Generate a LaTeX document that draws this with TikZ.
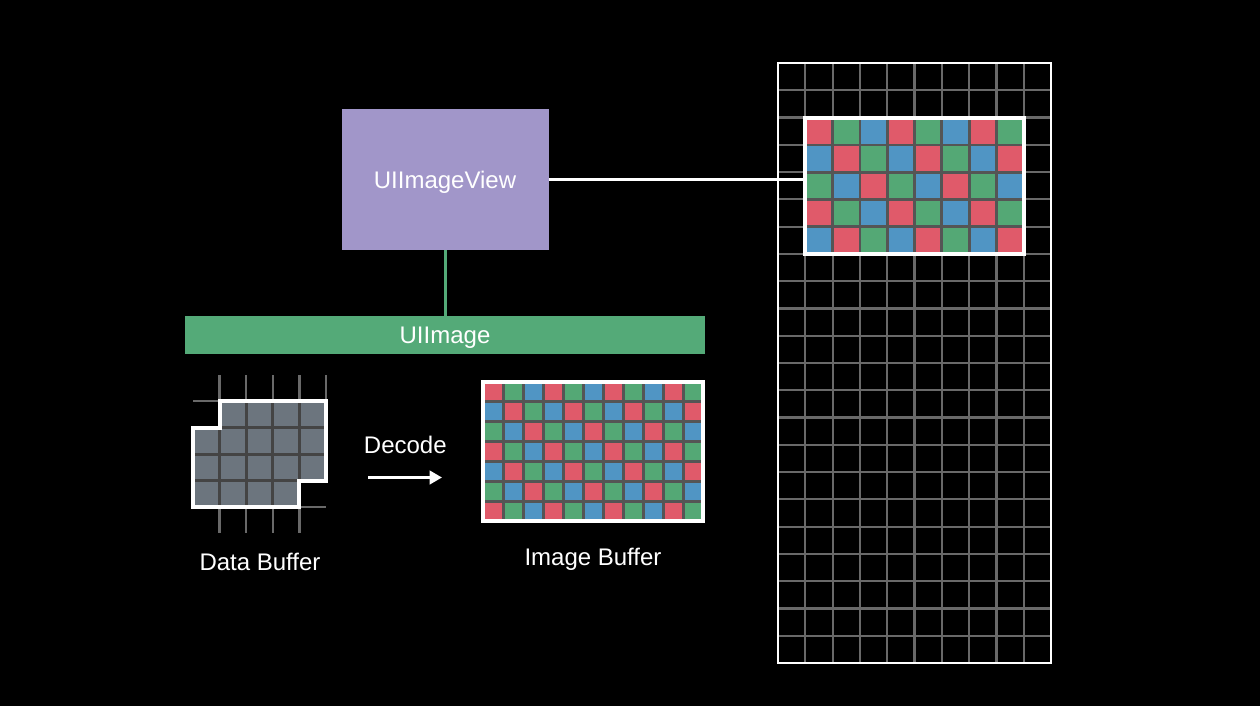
\documentclass[tikz,border=0pt]{standalone}
\usepackage{fontspec}
\setmainfont{Liberation Sans}
\usetikzlibrary{arrows.meta}
\definecolor{cred}{RGB}{224,90,106}
\definecolor{cgreen}{RGB}{84,168,117}
\definecolor{cblue}{RGB}{80,149,196}
\definecolor{cpurple}{RGB}{161,150,201}
\definecolor{cbar}{RGB}{84,170,120}
\definecolor{cgap}{RGB}{85,85,85}
\definecolor{cgrid}{RGB}{105,105,105}
\definecolor{ctile}{RGB}{108,117,126}
\definecolor{cdark}{RGB}{68,68,68}
\tikzset{
  lbl/.style={text=white,font=\fontsize{24}{28}\selectfont,inner sep=0pt,anchor=base},
  gridline/.style={draw=cgrid,line width=2.2pt},
  stub/.style={draw=cgrid,line width=2.4pt},
  whiteframe/.style={draw=white,line width=4pt},
}
\begin{document}
\begin{tikzpicture}[x=1pt,y=-1pt]
\fill[black] (0,0) rectangle (1260,706);
\useasboundingbox (0,0) rectangle (1260,706);

% ---------- right screen grid ----------
\foreach \i in {0,...,10} \draw[gridline] (778+\i*27.3,63) -- ++(0,600);
\foreach \j in {0,...,22} \draw[gridline] (778,63+\j*27.273) -- ++(273,0);
\node[draw=white,line width=2pt,minimum width=273pt,minimum height=600pt,inner sep=0pt] (screen) at (914.5,363) {};

% colored region in screen
\fill[cgap] (805.3,117.6) rectangle (1023.7,254.1);
\foreach \r in {0,...,4} \foreach \c in {0,...,7} {
  \pgfmathtruncatemacro\k{mod(\c-\r+30,3)}
  \ifcase\k \def\cc{cred}\or \def\cc{cgreen}\or \def\cc{cblue}\fi
  \fill[\cc] (805.3+\c*27.3+1.4,117.6+\r*27.3+1.4) rectangle ++(24.5,24.5);
}
\node[whiteframe,minimum width=218.4pt,minimum height=136.5pt,inner sep=0pt] (shown) at (914.5,185.85) {};

% ---------- UIImageView ----------
\node[fill=cpurple,minimum width=207pt,minimum height=141pt,inner sep=0pt,
      text=white,font=\fontsize{24}{28}\selectfont,text height=17pt,text depth=0pt] (uiv) at (445,179.7) {UIImageView};

% ---------- UIImage bar ----------
\node[fill=cbar,minimum width=520pt,minimum height=38.6pt,inner sep=0pt,
      text=white,font=\fontsize{24}{28}\selectfont,text height=17pt,text depth=0pt] (uiimg) at (445,335) {UIImage};

\draw[cbar,line width=3pt] (uiv.south) -- (uiimg.north);
\draw[white,line width=3pt] (uiv.east) -- (uiv.east -| shown.west);

% ---------- Data buffer ----------
\def\xa{193}\def\xb{219.6}\def\xc{246.2}\def\xd{272.8}\def\xe{299.4}\def\xf{326}
\def\ya{401}\def\yb{427.5}\def\yc{454}\def\yd{480.5}\def\ye{507}
% stubs
\foreach \x in {\xb,\xc,\xd,\xe,\xf} \draw[stub] (\x,375) -- (\x,\ya);
\foreach \x in {\xb,\xc,\xd,\xe} \draw[stub] (\x,\ye) -- (\x,533);
\draw[stub] (\xa,\ya) -- (\xb,\ya);
\draw[stub] (\xe,\ye) -- (\xf,\ye);
% tiles
\fill[cdark] (\xb,\ya) -- (\xf,\ya) -- (\xf,\yd) -- (\xe,\yd) -- (\xe,\ye) -- (\xa,\ye) -- (\xa,\yb) -- (\xb,\yb) -- cycle;
\foreach \c/\r in {1/0,2/0,3/0,4/0, 0/1,1/1,2/1,3/1,4/1, 0/2,1/2,2/2,3/2,4/2, 0/3,1/3,2/3,3/3}
  \fill[ctile] (193+\c*26.6+1.5,401+\r*26.5+1.5) rectangle ++(23.6,23.5);
\draw[white,line width=4pt,line join=miter] (\xb,\ya) -- (\xf,\ya) -- (\xf,\yd) -- (\xe,\yd) -- (\xe,\ye) -- (\xa,\ye) -- (\xa,\yb) -- (\xb,\yb) -- cycle;
\coordinate (dbuf) at (259.5,454);

% ---------- Image buffer ----------
\fill[cgap] (483,381.5) rectangle (703,521);
\foreach \r in {0,...,6} \foreach \c in {0,...,10} {
  \pgfmathtruncatemacro\k{mod(\c-\r+30,3)}
  \ifcase\k \def\cc{cred}\or \def\cc{cgreen}\or \def\cc{cblue}\fi
  \fill[\cc] (483+\c*20+1.5,381.5+\r*19.93+1.5) rectangle ++(17,16.93);
}
\node[whiteframe,minimum width=220pt,minimum height=139.5pt,inner sep=0pt] (ibuf) at (593,451.25) {};

% ---------- Decode arrow ----------
\node[lbl] (decode) at (405.3,453.3) {Decode};
\coordinate (arrA) at (368,477.5);
\coordinate (arrB) at (442,477.5);
\draw[white,line width=3.3pt,-{Triangle[length=12.5pt,width=13.5pt]}] (arrA) -- (arrB);

% ---------- labels ----------
\node[lbl] (dlabel) at (260,570) {Data Buffer};
\node[lbl] (ilabel) at (593,565) {Image Buffer};
\end{tikzpicture}
\end{document}
